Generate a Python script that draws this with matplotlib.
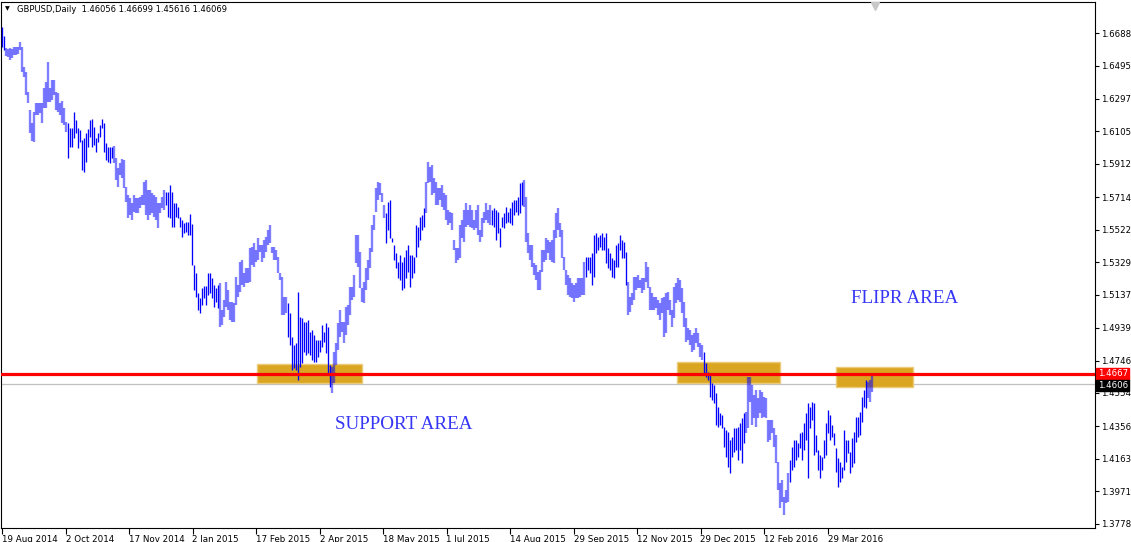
import matplotlib
matplotlib.use('Agg')
import matplotlib.pyplot as plt
import matplotlib.transforms as mtransforms
from matplotlib.collections import LineCollection
from matplotlib.patches import Rectangle
import numpy as np

# ---------------- data ----------------
highs = [
1.6724,1.6671,1.6599,1.6593,1.6599,1.6593,1.6605,1.6605,1.6605,1.6635,
1.6605,1.6487,1.6457,1.6338,1.6232,1.6155,1.6220,1.6273,1.6273,1.6273,
1.6273,1.6362,1.6398,1.6516,1.6362,1.6410,1.6410,1.6338,1.6333,1.6273,
1.6285,1.6244,1.6161,1.6155,1.6125,1.6125,1.6220,1.6172,1.6125,1.6113,
1.6054,1.6066,1.6095,1.6119,1.6172,1.6178,1.6131,1.6066,1.6095,1.6143,
1.6178,1.6155,1.6036,1.6012,1.6012,1.6012,1.6018,1.5947,1.5888,1.5917,
1.5941,1.5935,1.5775,1.5728,1.5710,1.5680,1.5728,1.5710,1.5710,1.5716,
1.5728,1.5805,1.5817,1.5757,1.5757,1.5740,1.5728,1.5716,1.5680,1.5680,
1.5716,1.5757,1.5745,1.5745,1.5787,1.5745,1.5680,1.5680,1.5656,1.5597,
1.5579,1.5562,1.5568,1.5568,1.5615,1.5556,1.5313,1.5265,1.5147,1.5117,
1.5176,1.5188,1.5188,1.5265,1.5265,1.5235,1.5194,1.5176,1.5194,
1.5206,1.5046,1.5105,1.5212,1.5164,1.5093,1.5093,1.5087,1.5241,1.5194,
1.5330,1.5342,1.5265,1.5295,1.5295,1.5413,1.5419,1.5443,1.5401,1.5473,
1.5431,1.5431,1.5461,1.5479,1.5520,1.5550,1.5419,1.5419,1.5401,1.5360,
1.5265,1.5241,1.5123,1.5123,1.5087,1.5028,1.4886,1.4838,1.4850,1.5152,
1.5004,1.4998,1.4975,1.4975,1.4986,1.4915,1.4927,1.4897,1.4868,1.4868,
1.4868,1.4957,1.4915,1.4969,1.4945,1.4720,1.4708,1.4797,1.4850,1.4969,
1.5046,1.4975,1.4975,1.5063,1.5075,1.5182,1.5182,1.5253,1.5490,1.5490,
1.5390,1.5176,1.5212,1.5295,1.5342,1.5413,1.5550,1.5609,1.5769,1.5805,
1.5799,1.5740,1.5668,1.5621,1.5686,1.5698,1.5473,1.5431,1.5384,1.5330,
1.5372,1.5330,1.5360,1.5401,1.5431,1.5372,1.5372,1.5360,1.5550,1.5538,
1.5597,1.5609,1.5651,1.5805,1.5923,1.5894,1.5906,1.5828,1.5805,1.5769,
1.5769,1.5787,1.5740,1.5728,1.5639,1.5627,1.5621,1.5461,1.5413,1.5413,
1.5550,1.5579,1.5639,1.5680,1.5639,1.5668,1.5639,1.5579,1.5639,1.5668,
1.5520,1.5591,1.5627,1.5680,1.5639,1.5668,1.5639,1.5651,1.5639,1.5627,
1.5532,1.5597,1.5621,1.5656,1.5627,1.5651,1.5686,1.5698,1.5698,1.5716,
1.5799,1.5805,1.5817,1.5716,1.5502,1.5431,1.5431,1.5324,1.5313,1.5271,
1.5283,1.5401,1.5401,1.5473,1.5461,1.5449,1.5461,1.5520,1.5621,1.5651,
1.5562,1.5520,1.5360,1.5283,1.5253,1.5235,1.5206,1.5194,1.5206,1.5235,
1.5235,1.5235,1.5330,1.5360,1.5360,1.5360,1.5384,1.5490,1.5502,1.5479,
1.5490,1.5502,1.5479,1.5502,1.5413,1.5384,1.5354,1.5342,1.5431,1.5443,
1.5490,1.5461,1.5449,1.5390,1.5212,1.5123,1.5147,1.5241,1.5241,1.5253,
1.5224,1.5235,1.5235,1.5330,1.5301,1.5182,1.5147,1.5123,1.5123,1.5105,
1.5087,1.5117,1.5123,1.5147,1.5152,1.5105,1.5046,1.5182,1.5206,1.5235,
1.5224,1.5176,1.5093,1.4998,1.4939,1.4927,1.4897,1.4909,1.4939,1.4909,
1.4850,1.4838,1.4797,1.4731,1.4678,1.4672,1.4613,1.4601,1.4554,1.4470,
1.4435,1.4423,1.4352,1.4334,1.4322,1.4275,1.4293,1.4346,1.4346,1.4352,
1.4376,1.4405,1.4435,1.4441,1.4648,1.4648,1.4601,1.4542,1.4571,1.4524,
1.4571,1.4559,1.4530,1.4524,1.4393,1.4393,1.4393,1.4346,1.4304,1.4144,
1.4020,1.4038,1.3937,1.3978,1.4079,1.4156,1.4233,1.4275,1.4275,1.4257,
1.4316,1.4322,1.4376,1.4435,1.4494,1.4470,1.4500,1.4494,1.4304,1.4215,
1.4186,1.4174,1.4275,1.4376,1.4453,1.4423,1.4364,1.4316,1.4227,1.4168,
1.4144,1.4115,1.4334,1.4275,1.4275,1.4204,1.4287,1.4322,1.4411,1.4411,
1.4441,1.4530,1.4571,1.4631,1.4619,1.4631,1.4670,
]

lows = [
1.6605,1.6587,1.6552,1.6546,1.6528,1.6540,1.6558,1.6558,1.6564,1.6587,
1.6457,1.6427,1.6321,1.6273,1.6095,1.6048,1.6042,1.6202,1.6202,1.6214,
1.6155,1.6244,1.6244,1.6279,1.6279,1.6291,1.6321,1.6232,1.6220,1.6202,
1.6155,1.6143,1.6101,1.5947,1.6012,1.6012,1.6066,1.6095,1.6006,1.6042,
1.5876,1.5864,1.5923,1.6012,1.6072,1.6012,1.6024,1.5983,1.6042,1.6072,
1.6125,1.5983,1.5935,1.5923,1.5917,1.5947,1.5917,1.5817,1.5775,1.5846,
1.5828,1.5769,1.5686,1.5591,1.5609,1.5579,1.5627,1.5621,1.5621,1.5651,
1.5668,1.5668,1.5609,1.5579,1.5609,1.5621,1.5597,1.5579,1.5532,1.5621,
1.5651,1.5639,1.5668,1.5597,1.5591,1.5538,1.5538,1.5597,1.5591,1.5538,
1.5479,1.5502,1.5508,1.5490,1.5490,1.5313,1.5164,1.5123,1.5046,1.5028,
1.5075,1.5117,1.5075,1.5135,1.5147,1.5117,1.5063,1.5093,1.5058,
1.4945,1.4957,1.5004,1.5063,1.5046,1.4986,1.4975,1.4975,1.5075,1.5123,
1.5152,1.5194,1.5182,1.5206,1.5206,1.5212,1.5313,1.5301,1.5330,1.5342,
1.5390,1.5330,1.5354,1.5390,1.5431,1.5443,1.5384,1.5342,1.5342,1.5265,
1.5224,1.5016,1.5016,1.5028,1.4886,1.4838,1.4690,1.4702,1.4690,1.4631,
1.4708,1.4731,1.4797,1.4779,1.4791,1.4779,1.4749,1.4737,1.4737,1.4767,
1.4797,1.4826,1.4856,1.4791,1.4672,1.4589,1.4554,1.4613,1.4720,1.4808,
1.4886,1.4915,1.4850,1.4897,1.4957,1.5016,1.5105,1.5123,1.5324,1.5301,
1.5176,1.5093,1.5087,1.5164,1.5224,1.5295,1.5390,1.5520,1.5627,1.5698,
1.5728,1.5686,1.5591,1.5443,1.5520,1.5473,1.5449,1.5342,1.5295,1.5235,
1.5224,1.5164,1.5176,1.5235,1.5271,1.5182,1.5235,1.5265,1.5360,1.5419,
1.5461,1.5520,1.5538,1.5621,1.5799,1.5805,1.5728,1.5740,1.5668,1.5668,
1.5698,1.5656,1.5639,1.5579,1.5550,1.5562,1.5520,1.5401,1.5324,1.5342,
1.5354,1.5473,1.5449,1.5538,1.5550,1.5538,1.5532,1.5520,1.5532,1.5490,
1.5449,1.5479,1.5562,1.5579,1.5562,1.5550,1.5550,1.5538,1.5461,1.5502,
1.5419,1.5538,1.5532,1.5562,1.5568,1.5562,1.5550,1.5609,1.5627,1.5609,
1.5621,1.5668,1.5656,1.5449,1.5384,1.5342,1.5301,1.5253,1.5224,1.5164,
1.5164,1.5271,1.5330,1.5342,1.5384,1.5342,1.5330,1.5324,1.5473,1.5520,
1.5479,1.5354,1.5283,1.5194,1.5135,1.5123,1.5117,1.5093,1.5117,1.5117,
1.5123,1.5135,1.5135,1.5241,1.5283,1.5265,1.5194,1.5241,1.5384,1.5401,
1.5419,1.5401,1.5401,1.5324,1.5295,1.5283,1.5241,1.5235,1.5301,1.5301,
1.5401,1.5354,1.5354,1.5194,1.5016,1.5034,1.5075,1.5105,1.5164,1.5176,
1.5176,1.5147,1.5164,1.5212,1.5176,1.5046,1.5046,1.5046,1.5058,1.5016,
1.4986,1.5028,1.4886,1.4909,1.5046,1.5016,1.4945,1.4998,1.5087,1.5105,
1.5093,1.5028,1.4945,1.4856,1.4868,1.4838,1.4797,1.4808,1.4850,1.4826,
1.4767,1.4749,1.4660,1.4648,1.4631,1.4530,1.4512,1.4494,1.4364,1.4352,
1.4364,1.4346,1.4233,1.4174,1.4115,1.4079,1.4174,1.4204,1.4215,1.4156,
1.4215,1.4138,1.4257,1.4316,1.4346,1.4500,1.4364,1.4405,1.4352,1.4405,
1.4435,1.4405,1.4411,1.4405,1.4263,1.4275,1.4316,1.4233,1.4138,1.3978,
1.3872,1.3907,1.3830,1.3901,1.3907,1.4026,1.4097,1.4115,1.4156,1.4174,
1.4227,1.4156,1.4215,1.4275,1.4049,1.4346,1.4393,1.4186,1.4204,1.4097,
1.4049,1.4097,1.4168,1.4186,1.4316,1.4275,1.4293,1.4245,1.4085,1.3996,
1.4026,1.4049,1.4097,1.4144,1.4198,1.4079,1.4115,1.4138,1.4263,1.4293,
1.4304,1.4382,1.4470,1.4465,1.4524,1.4500,1.4562,
]

date_labels = ['19 Aug 2014', '2 Oct 2014', '17 Nov 2014', '2 Jan 2015', '17 Feb 2015',
               '2 Apr 2015', '18 May 2015', '1 Jul 2015', '14 Aug 2015', '29 Sep 2015',
               '12 Nov 2015', '29 Dec 2015', '12 Feb 2016', '29 Mar 2016']
bars_per_label = 31.75

price_ticks = [1.6688, 1.6495, 1.6297, 1.6105, 1.5912, 1.5714, 1.5522, 1.5329,
               1.5137, 1.4939, 1.4746, 1.4554, 1.4356, 1.4163, 1.3971, 1.3778]

level_price = 1.4667
bid_price = 1.4606

# zones: (first bar, last bar, low price, high price)
zone_start = [127.5, 337.5, 417.0]
zone_end = [180.0, 389.0, 455.5]
zone_low = [1.4613, 1.4613, 1.4589]
zone_high = [1.4725, 1.4737, 1.4708]

title_text = 'GBPUSD,Daily  1.46056 1.46699 1.45616 1.46069'

# ---------------- style ----------------
crisp_ranges = [(0, 1), (33, 55), (82, 108), (143, 164), (192, 211),
                (245, 260), (292, 312), (351, 371), (394, 432)]

W, H = 1131, 542
fig = plt.figure(figsize=(W / 100, H / 100), dpi=100)
fig.patch.set_facecolor('white')
ax = fig.add_axes([1 / W, 14 / H, 1094 / W, 526 / H])

n = len(highs)
crisp = np.zeros(n, dtype=bool)
for a, b in crisp_ranges:
    crisp[a:b + 1] = True

segs_soft = [[(i, lows[i]), (i, highs[i])] for i in range(n) if not crisp[i]]
segs_crisp = [[(i, lows[i]), (i, highs[i])] for i in range(n) if crisp[i]]
ax.add_collection(LineCollection(segs_soft, colors=[(0, 0, 1, 0.5)],
                                 linewidths=1.7, zorder=3))
ax.add_collection(LineCollection(segs_crisp, colors=['#0000FF'],
                                 linewidths=0.95, zorder=3))

for s, e, lo, hi in zip(zone_start, zone_end, zone_low, zone_high):
    ax.add_patch(Rectangle((s, lo), e - s, hi - lo, facecolor='#DAA520',
                           edgecolor='#EBCB7A', linewidth=1.0, zorder=2))

ax.axhline(level_price, color='#FF0000', linewidth=2.3, zorder=4)
ax.axhline(bid_price, color='#C0C0C0', linewidth=0.9, zorder=1)

ax.set_xlim(-0.5, 546.5)
ax.set_ylim(1.3753, 1.6872)

# axes
ax.yaxis.tick_right()
ax.set_yticks(price_ticks)
ax.set_yticklabels([f'{p:.4f}' for p in price_ticks])
ax.set_xticks([k * bars_per_label for k in range(len(date_labels))])
ax.set_xticklabels(date_labels)
for lbl in ax.get_xticklabels():
    lbl.set_horizontalalignment('left')
ax.tick_params(axis='y', direction='out', length=3, width=0.8, labelsize=6.2,
               pad=1.5, colors='black')
ax.tick_params(axis='x', direction='out', length=4, width=0.8, labelsize=6.3,
               pad=1, colors='black')
for sp in ax.spines.values():
    sp.set_linewidth(0.8)
    sp.set_color('black')

blend = mtransforms.blended_transform_factory(ax.transAxes, ax.transData)
ax.text(1.0025, level_price, '1.4667', transform=blend, color='white',
        fontsize=6.2, va='center', ha='left', clip_on=False, zorder=6,
        bbox=dict(facecolor='#FF0000', edgecolor='#FF0000',
                  boxstyle='square,pad=0.15'))
ax.text(1.0025, bid_price - 0.0008, '1.4606', transform=blend, color='white',
        fontsize=6.2, va='center', ha='left', clip_on=False, zorder=6,
        bbox=dict(facecolor='black', edgecolor='black',
                  boxstyle='square,pad=0.15'))

# annotations
ax.text(166.5, 1.4340, 'SUPPORT AREA', family='Liberation Serif', fontsize=13.7,
        color='#3535F5', ha='left', va='baseline', zorder=5)
ax.text(424.5, 1.5087, 'FLIPR AREA', family='Liberation Serif', fontsize=13.7,
        color='#3535F5', ha='left', va='baseline', zorder=5)

# title
fig.text(17 / W, 1 - 9 / H, title_text, fontsize=6.0, va='center', ha='left',
         color='black')
fig.text(5 / W, 1 - 9 / H, '\u25BC', fontsize=4.5, va='center', ha='left',
         color='black')

# chart shift marker
tri = mtransforms.blended_transform_factory(ax.transData, ax.transAxes)
ax.plot([436.5], [0.992], marker='v', markersize=6, color='#C8C8C8',
        transform=tri, clip_on=False, zorder=6)

fig.savefig('out.png', dpi=100, facecolor='white')
